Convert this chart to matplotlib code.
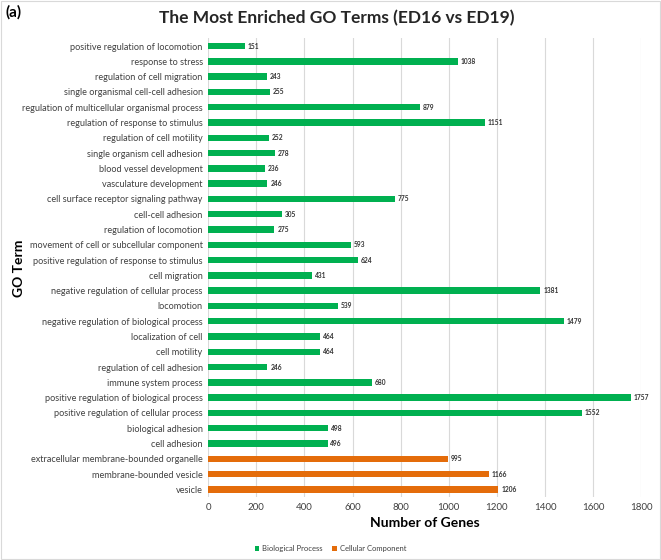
import matplotlib
matplotlib.use("Agg")
import matplotlib.pyplot as plt
from matplotlib.patches import Patch, Rectangle

plt.rcParams['font.family'] = ['Lato', 'DejaVu Sans']

terms = [
    "positive regulation of locomotion",
    "response to stress",
    "regulation of cell migration",
    "single organismal cell-cell adhesion",
    "regulation of multicellular organismal process",
    "regulation of response to stimulus",
    "regulation of cell motility",
    "single organism cell adhesion",
    "blood vessel development",
    "vasculature development",
    "cell surface receptor signaling pathway",
    "cell-cell adhesion",
    "regulation of locomotion",
    "movement of cell or subcellular component",
    "positive regulation of response to stimulus",
    "cell migration",
    "negative regulation of cellular process",
    "locomotion",
    "negative regulation of biological process",
    "localization of cell",
    "cell motility",
    "regulation of cell adhesion",
    "immune system process",
    "positive regulation of biological process",
    "positive regulation of cellular process",
    "biological adhesion",
    "cell adhesion",
    "extracellular membrane-bounded organelle",
    "membrane-bounded vesicle",
    "vesicle",
]
counts = [151, 1038, 243, 255, 879, 1151, 252, 278, 236, 246, 775, 305, 275,
          593, 624, 431, 1381, 539, 1479, 464, 464, 246, 680, 1757, 1552,
          498, 496, 995, 1166, 1206]
groups = ["Biological Process"] * 27 + ["Cellular Component"] * 3
group_names = ["Biological Process", "Cellular Component"]
group_colors = {"Biological Process": "#00B050", "Cellular Component": "#E46C0A"}
xticks = [0, 200, 400, 600, 800, 1000, 1200, 1400, 1600, 1800]

fig = plt.figure(figsize=(6.61, 5.6), dpi=100)
ax = fig.add_axes([0.315, 0.1125, 0.655, 0.819])

ypos = list(range(len(terms)))
colors = [group_colors[g] for g in groups]
ax.barh(ypos, counts, height=0.42, color=colors, zorder=3)
for y, v in zip(ypos, counts):
    ax.text(v + 12, y, str(v), va='center', ha='left', fontsize=4.8,
            fontweight='bold', color='#333333', zorder=4)

ax.set_yticks(ypos)
ax.set_yticklabels(terms, fontsize=6.6, color='#404040')
ax.set_ylim(len(terms) - 0.5, -0.5)
ax.set_xlim(0, 1800)
ax.set_xticks(xticks)
ax.set_xticklabels([str(t) for t in xticks], fontsize=7, color='#404040')
ax.tick_params(axis='both', length=0, pad=4)
ax.grid(axis='x', color='#D9D9D9', linewidth=0.8, zorder=0)
for s in ax.spines.values():
    s.set_visible(False)

ax.set_xlabel("Number of Genes", fontsize=10, fontweight='bold', labelpad=4)
fig.text(0.028, 0.52, "GO Term", rotation=90, fontsize=10, fontweight='bold',
         ha='center', va='center')
fig.text(0.51, 0.967, "The Most Enriched GO Terms (ED16 vs ED19)", fontsize=12.5,
         fontweight='bold', ha='center', va='center', color='#262626')
fig.text(0.008, 0.978, "(a)", fontsize=11, fontweight='bold', ha='left', va='center')

handles = [Patch(facecolor=group_colors[g], label=g) for g in group_names]
fig.legend(handles=handles, loc='center', bbox_to_anchor=(0.5, 0.02), ncol=2,
           frameon=False, fontsize=5.5, handlelength=0.6, handleheight=0.6,
           columnspacing=1.2, handletextpad=0.4, labelcolor='#404040')

fig.patches.append(Rectangle((0.001, 0.001), 0.998, 0.998, transform=fig.transFigure,
                             fill=False, edgecolor='#D9D9D9', linewidth=0.8))

fig.savefig("out.png", dpi=100)
